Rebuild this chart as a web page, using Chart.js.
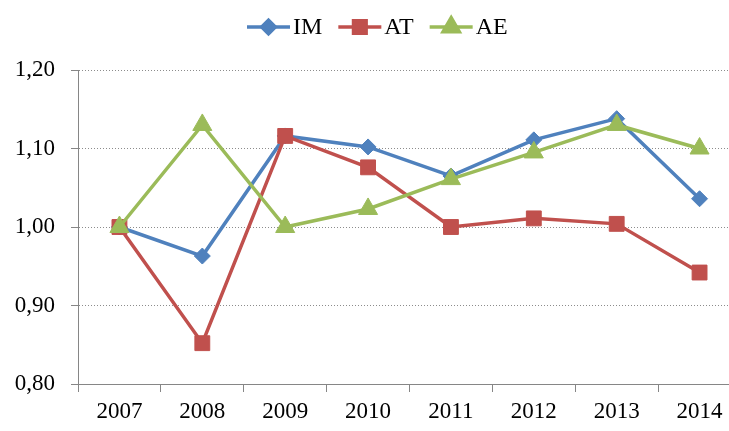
<!DOCTYPE html>
<html>
<head>
<meta charset="utf-8">
<script src="https://cdn.jsdelivr.net/npm/chart.js@4"></script>
<style>
  html, body { margin: 0; padding: 0; background: #fff; overflow: hidden; width: 729px; height: 431px; }
  canvas { display: block; }
</style>
</head>
<body>
<canvas id="chart" width="753" height="431"></canvas>
<script>
const years = ["2007", "2008", "2009", "2010", "2011", "2012", "2013", "2014"];
const imValues = [1.000, 0.963, 1.116, 1.102, 1.065, 1.111, 1.138, 1.036];
const atValues = [1.000, 0.852, 1.116, 1.076, 1.000, 1.011, 1.004, 0.942];
const aeValues = [1.000, 1.130, 1.000, 1.023, 1.061, 1.095, 1.130, 1.100];
const yTicks = [0.80, 0.90, 1.00, 1.10, 1.20];

const FONT = "'Liberation Serif', 'Times New Roman', serif";
const AXIS = "#868686";

// legend drawn as line + marker + label, like the office-style original
const lineLegend = {
  id: "lineLegend",
  afterDraw(chart) {
    const ctx = chart.ctx;
    const y = 27;
    let x = 247;
    ctx.save();
    ctx.font = "24px " + FONT;
    ctx.textBaseline = "middle";
    chart.data.datasets.forEach((ds) => {
      ctx.strokeStyle = ds.borderColor;
      ctx.lineWidth = 3.5;
      ctx.beginPath();
      ctx.moveTo(x, y);
      ctx.lineTo(x + 43, y);
      ctx.stroke();
      ctx.fillStyle = ds.backgroundColor;
      Chart.helpers.drawPoint(ctx, {
        pointStyle: ds.pointStyle,
        radius: ds.pointRadius * 0.85,
        borderWidth: 1,
        rotation: 0
      }, x + 21.5, y);
      ctx.fillStyle = "#000";
      ctx.fillText(ds.label, x + 46, y + 1);
      x += 46 + ctx.measureText(ds.label).width + 16;
    });
    ctx.restore();
  }
};

new Chart(document.getElementById("chart"), {
  type: "line",
  data: {
    labels: years,
    datasets: [
      { label: "IM", data: imValues, borderColor: "#4F81BD", backgroundColor: "#4F81BD",
        pointStyle: "rectRot", pointRadius: 8, order: 2 },
      { label: "AT", data: atValues, borderColor: "#C0504D", backgroundColor: "#C0504D",
        pointStyle: "rect", pointRadius: 10.5, order: 1 },
      { label: "AE", data: aeValues, borderColor: "#9BBB59", backgroundColor: "#9BBB59",
        pointStyle: "triangle", pointRadius: 11, order: 0 }
    ]
  },
  options: {
    responsive: false,
    animation: false,
    events: [],
    layout: { padding: { top: 70, left: 0, right: 0, bottom: 0 } },
    elements: {
      line: { borderWidth: 3.5, tension: 0 },
      point: { borderWidth: 1, hoverRadius: 8 }
    },
    plugins: {
      legend: { display: false },
      tooltip: { enabled: false }
    },
    scales: {
      x: {
        offset: true,
        grid: { display: true, drawOnChartArea: false, offset: true, tickLength: 8, color: AXIS, tickColor: AXIS },
        border: { display: true, color: AXIS, width: 1 },
        ticks: { color: "#000", font: { family: FONT, size: 23 }, padding: 6, maxRotation: 0, autoSkip: false },
        afterFit(scale) { scale.height = 47; }
      },
      y: {
        min: yTicks[0],
        max: yTicks[yTicks.length - 1],
        afterBuildTicks(scale) { scale.ticks = yTicks.map(v => ({ value: v })); },
        grid: { color: "#8c8c8c", tickLength: 7, tickColor: AXIS, tickBorderDash: [], lineWidth: 1 },
        border: { display: true, color: AXIS, width: 1, dash: [1, 2] },
        ticks: {
          color: "#000",
          font: { family: FONT, size: 23 },
          padding: 16,
          callback: (v) => Number(v).toFixed(2).replace(".", ",")
        },
        afterFit(scale) { scale.width = 78; }
      }
    }
  },
  plugins: [lineLegend]
});
</script>
</body>
</html>
